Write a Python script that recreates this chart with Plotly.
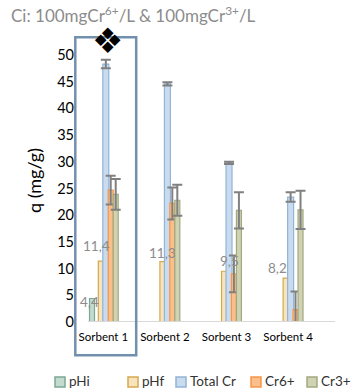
import plotly.graph_objects as go

# ---- data ----
categories = ["Sorbent 1", "Sorbent 2", "Sorbent 3", "Sorbent 4"]
series_names = ["pHi", "pHf", "Total Cr", "Cr6+", "Cr3+"]
ph_initial = [4.4, None, None, None]
ph_final = [11.4, 11.3, 9.5, 8.2]
total_cr = [48.3, 44.6, 29.8, 23.4]
total_cr_err = [0.8, 0.3, 0.2, 0.9]
cr6 = [24.7, 22.2, 9.0, 2.3]
cr6_err = [2.7, 3.0, 3.45, 3.4]
cr3 = [23.9, 22.8, 20.9, 21.0]
cr3_err = [2.9, 2.9, 3.4, 3.6]
y_ticks = list(range(0, 51, 5))

# ---- page geometry (pixels) ----
W, H = 352, 389
ML, MR, MT, MB = 73, 17, 39, 67
PW, PH = W - ML - MR, H - MT - MB
X_RANGE = [-0.492, 3.761]
Y_RANGE = [0, 53]


def px_x(p):
    return (p - ML) / PW


def px_y(p):
    return (H - MB - p) / PH


unit = PW / (X_RANGE[1] - X_RANGE[0])  # pixels per category

# bar styles: (fill, outline, centre offset px, width px)
styles = {
    "pHi": ("#c3dacf", "#7ea797", -11.3, 5),
    "pHf": ("#f6e4bf", "#d6a84e", -2.5, 5),
    "Total Cr": ("#c8dbef", "#93b4d6", 2.5, 6),
    "Cr6+": ("#fbbf8c", "#f7964a", 7.4, 5),
    "Cr3+": ("#cfd2b3", "#a3a97e", 12.4, 5),
}
values = {
    "pHi": (ph_initial, None),
    "pHf": (ph_final, None),
    "Total Cr": (total_cr, total_cr_err),
    "Cr6+": (cr6, cr6_err),
    "Cr3+": (cr3, cr3_err),
}

x_idx = list(range(len(categories)))
fig = go.Figure()
for name in series_names:
    fill, line, off_px, w_px = styles[name]
    vals, err = values[name]
    w = w_px / unit
    bar = dict(
        x=x_idx, y=vals, name=name, width=w, offset=off_px / unit - w / 2,
        marker=dict(color=fill, line=dict(color=line, width=1.2)),
        showlegend=False, hoverinfo="skip",
    )
    if err is not None:
        bar["error_y"] = dict(type="data", array=err, visible=True,
                              color="#808080", thickness=2, width=5)
    fig.add_trace(go.Bar(**bar))


def fmt(v):
    return f"{v:.1f}".replace(".", ",")


annotations = []
# pH value labels, each nudged beside its bar
ph_label_shift = [(-4, 15), (0, 8.5), (5, 10), (-8, 10)]
for i, v in enumerate(ph_final):
    dx, dy = ph_label_shift[i]
    annotations.append(dict(
        x=i + styles["pHf"][2] / unit, y=v, xref="x", yref="y", text=fmt(v),
        showarrow=False, xshift=dx, yshift=dy,
        font=dict(family="Lato", size=13.5, color="#8c8c8c")))
for i, v in enumerate(ph_initial):
    if v is None:
        continue
    annotations.append(dict(
        x=i + styles["pHi"][2] / unit, y=v, xref="x", yref="y", text=fmt(v),
        showarrow=False, xshift=-2.5, yshift=-3.5,
        font=dict(family="Lato", size=13.5, color="#8c8c8c")))

# title
annotations.append(dict(
    x=px_x(9), y=px_y(14), xref="paper", yref="paper", xanchor="left", yanchor="middle",
    text="Ci: 100mgCr<sup>6+</sup>/L & 100mgCr<sup>3+</sup>/L", showarrow=False,
    font=dict(family="Lato", size=17, color="#8c8c8c")))

# marker of the highlighted sorbent
annotations.append(dict(
    x=px_x(107), y=px_y(41), xref="paper", yref="paper", xanchor="center", yanchor="middle",
    text="❖", showarrow=False, font=dict(family="DejaVu Sans", size=35, color="#000000")))

shapes = [
    # baseline
    dict(type="line", xref="paper", yref="y", x0=px_x(88), x1=px_x(335), y0=0, y1=0,
         line=dict(color="#d9d9d9", width=2)),
    # frame around Sorbent 1
    dict(type="rect", xref="paper", yref="paper",
         x0=px_x(75.3), x1=px_x(136.2), y0=px_y(355.3), y1=px_y(37.3),
         line=dict(color="#7290ad", width=2.5), layer="above"),
]

# legend drawn as swatches and labels
legend_pos = [55, 128, 176, 251, 307]
for name, left in zip(series_names, legend_pos):
    fill, line, _, _ = styles[name]
    shapes.append(dict(type="rect", xref="paper", yref="paper",
                       x0=px_x(left), x1=px_x(left + 10), y0=px_y(387), y1=px_y(377),
                       fillcolor=fill, line=dict(color=line, width=1.5)))
    annotations.append(dict(
        x=px_x(left + 13), y=px_y(381), xref="paper", yref="paper",
        xanchor="left", yanchor="middle", text=name, showarrow=False, borderpad=0,
        font=dict(family="Lato", size=13.5, color="#333333")))

fig.update_layout(
    width=W, height=H, margin=dict(l=ML, r=MR, t=MT, b=MB, autoexpand=False),
    paper_bgcolor="white", plot_bgcolor="white",
    barmode="overlay", showlegend=False,
    annotations=annotations, shapes=shapes,
    font=dict(family="Lato", color="#000000"),
)
fig.update_xaxes(range=X_RANGE, tickmode="array", tickvals=x_idx, ticktext=categories,
                 showgrid=False, showline=False, zeroline=False, ticks="",
                 tickfont=dict(family="Lato", size=11.5, color="#000000"),
                 ticklabelstandoff=6)
fig.update_yaxes(range=Y_RANGE, tickmode="array", tickvals=y_ticks,
                 showgrid=False, showline=False, zeroline=False, ticks="",
                 tickfont=dict(family="Lato", size=14.5, color="#000000"),
                 ticklabelstandoff=-2,
                 title=dict(text="q (mg/g)", standoff=10,
                            font=dict(family="Lato", size=18, color="#000000")))

fig.write_html("out.html")
